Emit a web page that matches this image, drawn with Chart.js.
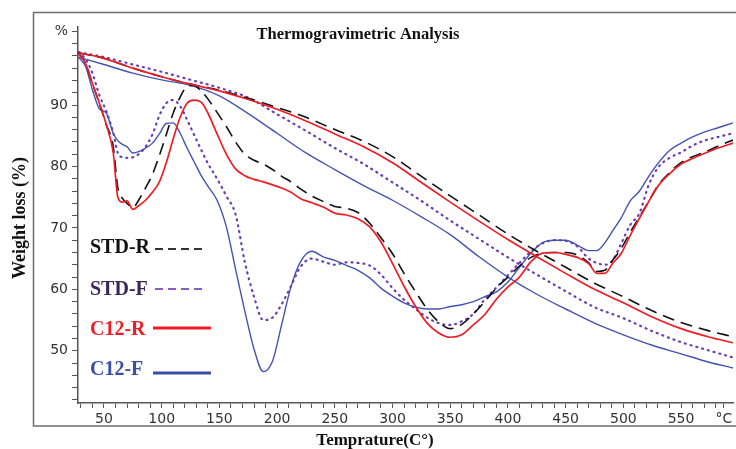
<!DOCTYPE html>
<html>
<head>
<meta charset="utf-8">
<script src="https://cdn.jsdelivr.net/npm/chart.js@4.4.1/dist/chart.umd.min.js"></script>
<style>
  html, body { margin: 0; padding: 0; background: #fff; }
</style>
</head>
<body>
<canvas id="tgaChart" width="736" height="449"></canvas>
<script>
// sample names (legend order)
const sampleNames = ['STD-R', 'STD-F', 'C12-R', 'C12-F']

// derivative-like curves (the ones with the dips), shared temperature grid
const dtgTemps = [28, 34, 40, 46, 52, 58, 62, 66, 70, 75, 80, 86, 92, 98, 104, 110, 116, 122, 128, 134,
  140, 148, 156, 164, 172, 180, 188, 196, 204, 212, 220, 230, 240, 250, 260, 270, 280, 290, 300, 310,
  320, 330, 340, 350, 360, 370, 380, 390, 400, 410, 420, 430, 440, 450, 460, 470, 477, 484, 491, 498,
  506, 514, 522, 530, 540, 550, 560, 570, 582, 595]

const stdR_dtg = [98.5, 96.8, 93.5, 90.3, 86.8, 83.3, 76.5, 74.8, 74, 73.3, 74.5, 76.5, 78.7, 81.8, 85.2, 88.7, 91.3, 93, 93.2, 92.3,
  91, 88.8, 86.5, 84, 82, 81, 80.4, 79.5, 78.4, 77.5, 76.4, 75.2, 74.3, 73.5, 73.2, 72.5, 70.8, 68.4, 65.8, 62.6,
  59.6, 56.8, 54.7, 53.6, 54.3, 56, 58, 60.2, 62, 63.8, 65.2, 65.9, 66, 66, 65.6, 64.3, 62.9, 63.1, 64.8, 66.6,
  69.3, 71.8, 74.3, 76.9, 79, 80.6, 81.6, 82.3, 83.3, 84.3]

const stdF_dtg = [98.6, 97.5, 95.2, 91.6, 89, 85.5, 82.2, 81.5, 81.4, 81.5, 82, 83.2, 85.2, 88.3, 90.3, 90.8, 89.8, 87.6, 85.2, 82.8,
  80.5, 78, 75.2, 72.2, 64.5, 58.8, 55, 55.4, 57.6, 60.5, 63.6, 65, 64.5, 64, 64.4, 64.3, 63.9, 62.4, 60.2, 58.3,
  56.8, 55.4, 54.5, 54.2, 54.8, 56, 58.4, 60.3, 62.3, 64.3, 66.2, 67.5, 68, 67.9, 67, 65, 64.3, 64, 64.8, 67.4,
  70.5, 72.4, 77, 79.8, 81.4, 82.3, 83.4, 84.2, 84.8, 85.4]

const c12R_dtg = [98.3, 96.8, 93.5, 90.3, 86.8, 82.3, 75, 74.2, 74.4, 73, 73.6, 74.5, 75.8, 77.5, 80.6, 84.5, 88, 90.3, 90.8, 90.5,
  88.7, 85.3, 82, 79.6, 78.5, 77.9, 77.5, 77, 76.5, 75.8, 74.8, 74.1, 73.4, 72.4, 72.1, 71.5, 70.2, 67.7, 64.2, 60.5,
  57.2, 54.5, 52.9, 52.2, 52.6, 54.2, 55.9, 58.4, 60.4, 62, 64.5, 65.9, 66, 65.7, 65.2, 64.2, 62.6, 62.6, 64.3, 65.8,
  68.8, 71.6, 74.3, 76.8, 78.8, 80.4, 81.3, 82.1, 83, 83.8]

const c12F_dtg = [97.8, 96.3, 92.5, 89.4, 88.7, 85.4, 84.2, 83.6, 83.2, 82.2, 82.4, 83, 83.8, 85.3, 87, 87.1, 85.4, 83, 80.8, 78.6,
  76.8, 74.5, 70.2, 63.3, 56.5, 50.3, 46.6, 48.3, 54.3, 60.4, 64.4, 66.2, 65.3, 64.7, 63.9, 63.1, 61.9, 60.2, 58.9, 57.8,
  57.1, 56.8, 56.8, 57.2, 57.5, 58, 58.8, 59.6, 61.2, 63.6, 65.9, 67.6, 68, 68, 67.2, 66.3, 66.3, 67.6, 69.6, 71.6,
  74.4, 76, 78.4, 80.5, 82.6, 83.8, 84.8, 85.6, 86.3, 87.1]

// weight loss curves (smooth ones)
const tgaTemps = [28, 50, 75, 100, 125, 150, 175, 200, 225, 250, 275, 300, 325, 350, 375, 400, 425, 450, 475, 500, 525, 550, 575, 595]
const stdR_tga = [98.5, 97.6, 96.0, 94.6, 93.4, 92.4, 91.1, 89.6, 88.0, 86.0, 84.1, 81.6, 78.4, 75.2, 72.1, 69.0, 66.2, 63.6, 61.0, 58.8, 56.5, 54.6, 53.2, 52.3]
const stdF_tga = [98.6, 97.8, 96.6, 95.4, 94.1, 92.8, 91.2, 88.5, 85.8, 83.0, 80.4, 77.4, 74.4, 71.2, 68.2, 65.2, 62.4, 59.7, 57.1, 55.3, 53.2, 51.4, 50.0, 48.9]
const c12R_tga = [98.5, 97.6, 96.0, 94.6, 93.4, 92.3, 90.9, 89.3, 87.4, 85.3, 83.2, 80.6, 77.4, 74.2, 71.1, 68.1, 65.3, 62.6, 60.0, 57.8, 55.5, 53.6, 52.2, 51.3]
const c12F_tga = [97.8, 96.6, 95.2, 94.1, 93.2, 91.5, 88.6, 85.4, 82.2, 79.5, 76.9, 74.5, 71.8, 68.9, 65.3, 62.0, 59.2, 56.8, 54.5, 52.6, 50.9, 49.5, 48.1, 47.2]

// axis ticks
const xLabels = [50, 100, 150, 200, 250, 300, 350, 400, 450, 500, 550]
const yLabels = [50, 60, 70, 80, 90]

const styles = [
  { line: '#111111', text: '#111111', dash: [12, 7], cap: 'butt', width: 1.6, key: '#333333', keyDash: [8, 5], keyWidth: 2 },
  { line: '#6a3db3', text: '#3b2658', dash: [1, 5], cap: 'round', width: 2.2, key: '#8a5cc2', keyDash: [8, 5], keyWidth: 2 },
  { line: '#ee1d25', text: '#ee1d25', dash: [], cap: 'butt', width: 1.7, key: '#ee1d25', keyDash: [], keyWidth: 3 },
  { line: '#4553b0', text: '#3a4ea6', dash: [], cap: 'butt', width: 1.4, key: '#3a4ea6', keyDash: [], keyWidth: 3 }
]

const dtgSeries = [stdR_dtg, stdF_dtg, c12R_dtg, c12F_dtg]
const tgaSeries = [stdR_tga, stdF_tga, c12R_tga, c12F_tga]

const toPoints = (xs, ys) => xs.map((x, i) => ({ x, y: ys[i] }))

const datasets = []
sampleNames.forEach((name, i) => {
  const st = styles[i]
  const common = {
    borderColor: st.line,
    borderWidth: st.width,
    borderDash: st.dash,
    borderCapStyle: st.cap,
    pointRadius: 0,
    fill: false,
    cubicInterpolationMode: 'monotone'
  }
  datasets.push({ label: name, data: toPoints(dtgTemps, dtgSeries[i]), ...common })
  datasets.push({ label: name + ' TGA', data: toPoints(tgaTemps, tgaSeries[i]), ...common })
})
// red on top, like the picture
const drawOrder = [2, 0, 3, 1]
datasets.forEach((d, k) => { d.order = drawOrder.indexOf(Math.floor(k / 2)) })

const legendRows = [
  { text: 253, line: 249, x0: 155, x1: 207 },
  { text: 295, line: 289, x0: 155, x1: 207 },
  { text: 335, line: 328, x0: 153, x1: 211 },
  { text: 375, line: 373, x0: 153, x1: 211 }
]

const decorPlugin = {
  id: 'decor',
  afterDraw(chart) {
    const ctx = chart.ctx
    ctx.save()
    // outer frame
    ctx.strokeStyle = '#6e6e6e'
    ctx.lineWidth = 1.5
    ctx.strokeRect(33.5, 12.5, 720, 413.5)

    // title
    ctx.fillStyle = '#111'
    ctx.textAlign = 'center'
    ctx.textBaseline = 'alphabetic'
    ctx.font = 'bold 16.5px "Liberation Serif"'
    ctx.fillText('Thermogravimetric Analysis', 358, 39)

    // axis titles
    ctx.font = 'bold 17px "Liberation Serif"'
    ctx.fillText('Temprature(C°)', 375, 445)
    ctx.save()
    ctx.translate(25, 218)
    ctx.rotate(-Math.PI / 2)
    ctx.font = 'bold 18px "Liberation Serif"'
    ctx.fillText('Weight loss (%)', 0, 0)
    ctx.restore()

    // legend
    ctx.textAlign = 'left'
    ctx.font = 'bold 20px "Liberation Serif"'
    sampleNames.forEach((name, i) => {
      const st = styles[i]
      const row = legendRows[i]
      ctx.fillStyle = st.text
      ctx.fillText(name, 90, row.text)
      ctx.beginPath()
      ctx.setLineDash(st.keyDash)
      ctx.strokeStyle = st.key
      ctx.lineWidth = st.keyWidth
      ctx.moveTo(row.x0, row.line)
      ctx.lineTo(row.x1, row.line)
      ctx.stroke()
    })
    ctx.restore()
  }
}

const tickFont = { family: 'DejaVu Sans', size: 14 }

new Chart('tgaChart', {
  type: 'line',
  data: { datasets },
  plugins: [decorPlugin],
  options: {
    responsive: false,
    animation: false,
    layout: { padding: { top: 27, right: 3, bottom: 0, left: 0 } },
    plugins: {
      legend: { display: false },
      tooltip: { enabled: false }
    },
    scales: {
      x: {
        type: 'linear',
        min: 27.5,
        max: 595,
        afterBuildTicks: scale => {
          const ticks = []
          for (let v = 30; v <= 580; v += 10) ticks.push({ value: v })
          ticks.push({ value: 587 })
          scale.ticks = ticks
        },
        afterFit: scale => {
          scale.height = 46
          scale.paddingLeft = 0
          scale.paddingRight = 0
        },
        grid: { drawOnChartArea: false, tickLength: 5, tickColor: '#555', tickWidth: 1 },
        border: { color: '#555', width: 1.5 },
        ticks: {
          autoSkip: false,
          maxRotation: 0,
          padding: 3,
          color: '#333',
          font: tickFont,
          callback: v => v === 587 ? '°C' : (xLabels.includes(v) ? String(v) : '')
        }
      },
      y: {
        type: 'linear',
        min: 41.5,
        max: 102.7,
        afterBuildTicks: scale => {
          const ticks = []
          for (let v = 42; v <= 102; v += 2) ticks.push({ value: v })
          scale.ticks = ticks
        },
        afterFit: scale => {
          scale.width = 78
          scale.paddingTop = 0
          scale.paddingBottom = 0
        },
        grid: { drawOnChartArea: false, tickLength: 6, tickColor: '#555', tickWidth: 1 },
        border: { color: '#555', width: 1.5 },
        ticks: {
          autoSkip: false,
          padding: 4,
          color: '#333',
          font: tickFont,
          callback: v => v === 102 ? '%' : (yLabels.includes(v) ? String(v) : '')
        }
      }
    }
  }
})
</script>
</body>
</html>
